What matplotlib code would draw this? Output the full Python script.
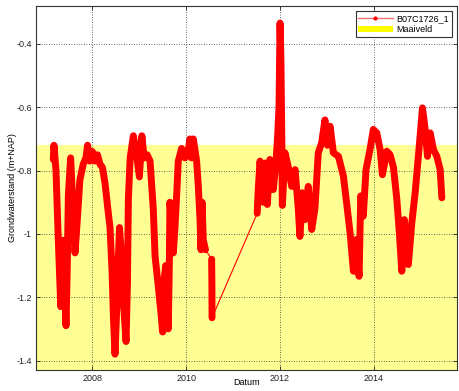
import numpy as np
import pandas as pd
import matplotlib
matplotlib.use('Agg')
import matplotlib.pyplot as plt
import matplotlib.dates as mdates
from matplotlib.lines import Line2D
from matplotlib.patches import Patch

plt.rcParams['font.family'] = ['Liberation Sans', 'DejaVu Sans']
plt.rcParams['font.size'] = 6.5

# grondwaterstand peilbuis B07C1726_1 (m+NAP)
datums = [
    '2007-03-03', '2007-03-08', '2007-03-24', '2007-04-11', '2007-04-30', '2007-05-14',
    '2007-05-20', '2007-05-29', '2007-06-10', '2007-06-20', '2007-06-28', '2007-07-16',
    '2007-07-30', '2007-08-19', '2007-09-07', '2007-09-26', '2007-10-22', '2007-11-12',
    '2007-11-25', '2007-12-13', '2008-01-02', '2008-01-21', '2008-02-10', '2008-03-01',
    '2008-03-20', '2008-04-09', '2008-04-28', '2008-05-18', '2008-06-03', '2008-06-14',
    '2008-06-26', '2008-07-08', '2008-07-20', '2008-07-31', '2008-08-12', '2008-08-28',
    '2008-09-20', '2008-10-01', '2008-10-08', '2008-10-22', '2008-11-16', '2008-12-08',
    '2009-01-02', '2009-01-21', '2009-02-08', '2009-03-03', '2009-03-26', '2009-04-20',
    '2009-05-04', '2009-05-29', '2009-06-19', '2009-07-02', '2009-07-12', '2009-07-26',
    '2009-08-05', '2009-08-15', '2009-08-23', '2009-08-28', '2009-09-09', '2009-09-23',
    '2009-10-06', '2009-10-19', '2009-11-01', '2009-11-27', '2009-12-23', '2010-01-16',
    '2010-01-31', '2010-02-12', '2010-02-26', '2010-03-24', '2010-04-06', '2010-04-19',
    '2010-04-27', '2010-05-05', '2010-05-15', '2010-06-01',
    '2010-07-19', '2010-07-21', '2010-07-22',
    '2011-07-09', '2011-07-17', '2011-07-31', '2011-08-25', '2011-09-07', '2011-09-26',
    '2011-10-16', '2011-11-11', '2011-12-03', '2011-12-14', '2011-12-26', '2012-01-03',
    '2012-01-10', '2012-01-16', '2012-01-21', '2012-02-11', '2012-03-08', '2012-04-03',
    '2012-04-29', '2012-05-24', '2012-06-06', '2012-06-27', '2012-07-15', '2012-08-10',
    '2012-09-06', '2012-10-01', '2012-10-27', '2012-11-22', '2012-12-18', '2013-01-06',
    '2013-01-27', '2013-02-22', '2013-04-02', '2013-05-11', '2013-06-07', '2013-07-02',
    '2013-07-28', '2013-08-18', '2013-09-10', '2013-09-23', '2013-10-13', '2013-11-03',
    '2013-12-04', '2013-12-30', '2014-01-26', '2014-02-21', '2014-03-11', '2014-04-14',
    '2014-05-10', '2014-06-05', '2014-07-01', '2014-07-21', '2014-08-09', '2014-08-29',
    '2014-09-29', '2014-10-26', '2014-11-21', '2014-12-16', '2014-12-30', '2015-01-17',
    '2015-02-07', '2015-02-25', '2015-03-18', '2015-04-13', '2015-05-09', '2015-06-04',
    '2015-06-17',
]
stand = [
    -0.765, -0.72, -0.80, -1.02, -1.23, -1.10,
    -1.02, -1.15, -1.29, -1.10, -0.88, -0.76,
    -0.88, -1.06, -0.95, -0.83, -0.78, -0.76,
    -0.72, -0.77, -0.74, -0.77, -0.75, -0.78,
    -0.79, -0.84, -0.91, -0.98, -1.12, -1.27,
    -1.38, -1.25, -1.10, -0.98, -1.05, -1.20,
    -1.34, -1.15, -0.89, -0.76, -0.69, -0.74,
    -0.82, -0.69, -0.76, -0.75, -0.77, -0.92,
    -1.07, -1.165, -1.25, -1.31, -1.15, -1.10,
    -1.20, -1.30, -1.10, -0.90, -0.98, -1.06,
    -0.98, -0.88, -0.77, -0.73, -0.76, -0.74,
    -0.70, -0.76, -0.70, -0.77, -0.85, -0.95,
    -1.05, -0.90, -1.02, -1.05,
    -1.08, -1.16, -1.265,
    -0.935, -0.86, -0.77, -0.90, -0.776, -0.907,
    -0.765, -0.86, -0.77, -0.70, -0.60, -0.334,
    -0.45, -0.67, -0.91, -0.744, -0.79, -0.85,
    -0.797, -0.92, -1.008, -0.87, -0.955, -0.85,
    -0.986, -0.92, -0.744, -0.713, -0.64, -0.72,
    -0.66, -0.744, -0.755, -0.818, -0.91, -0.997,
    -1.118, -1.018, -1.134, -0.88, -0.944, -0.797,
    -0.734, -0.67, -0.681, -0.734, -0.813, -0.739,
    -0.75, -0.79, -0.89, -0.997, -1.118, -0.955,
    -1.097, -0.965, -0.87, -0.755, -0.69, -0.602,
    -0.67, -0.755, -0.681, -0.734, -0.755, -0.797,
    -0.886,
]
maaiveld = -0.72
x_min, x_max = '2006-10-19', '2015-10-13'
y_min, y_max = -1.43, -0.28

df = pd.DataFrame({'datum': pd.to_datetime(datums), 'stand': stand})
# periodes zonder metingen (> 45 dagen) alleen met een dunne lijn verbinden
gat = df['datum'].diff().dt.days > 45

fig = plt.figure(figsize=(4.59, 3.91), dpi=100)
ax = fig.add_axes([0.0784, 0.0537, 0.9172, 0.931])

ax.axhspan(y_min, maaiveld, color='#ffff00', alpha=0.42, lw=0, zorder=1)

ax.plot(df['datum'], df['stand'], color='red', lw=0.8, zorder=3)
# doorlopende stukken breed tekenen
for _, g in df.groupby(gat.cumsum()):
    ax.plot(g['datum'], g['stand'], color='red', lw=5,
            solid_joinstyle='round', solid_capstyle='round', zorder=3)

ax.set_xlim(pd.Timestamp(x_min), pd.Timestamp(x_max))
ax.set_ylim(y_min, y_max)
ax.xaxis.set_major_locator(mdates.YearLocator(2))
ax.xaxis.set_major_formatter(mdates.DateFormatter('%Y'))
ax.set_yticks([-1.4, -1.2, -1.0, -0.8, -0.6, -0.4])
ax.yaxis.set_major_formatter(plt.FuncFormatter(lambda v, p: '%g' % v))
ax.tick_params(direction='in', length=3, width=0.6, pad=3, colors='#222222',
               labelsize=6.5, top=True, right=True)
ax.grid(True, ls=(0, (1, 2)), color='#333333', lw=0.6, zorder=2)
for s in ax.spines.values():
    s.set_linewidth(0.8)
    s.set_color('#333333')

ax.set_xlabel('Datum', fontsize=6.5)
ax.xaxis.set_label_coords(0.5, -0.021)
ax.set_ylabel('Grondwaterstand (m+NAP)', fontsize=6.5)
ax.yaxis.set_label_coords(-0.045, 0.5)

handles = [
    Line2D([], [], color='#ff7070', lw=1, marker='.', markersize=4,
           markerfacecolor='red', markeredgecolor='red'),
    Patch(facecolor='#ffff00', edgecolor='none'),
]
leg = ax.legend(handles, ['B07C1726_1', 'Maaiveld'], loc='upper right',
                fontsize=6.5, frameon=True, fancybox=False, framealpha=1,
                borderpad=0.3, labelspacing=0.2, handlelength=3.8,
                handletextpad=0.4, borderaxespad=0.6)
leg.get_frame().set_edgecolor('#333333')
leg.get_frame().set_linewidth(0.8)

fig.savefig('out.png', dpi=100)
